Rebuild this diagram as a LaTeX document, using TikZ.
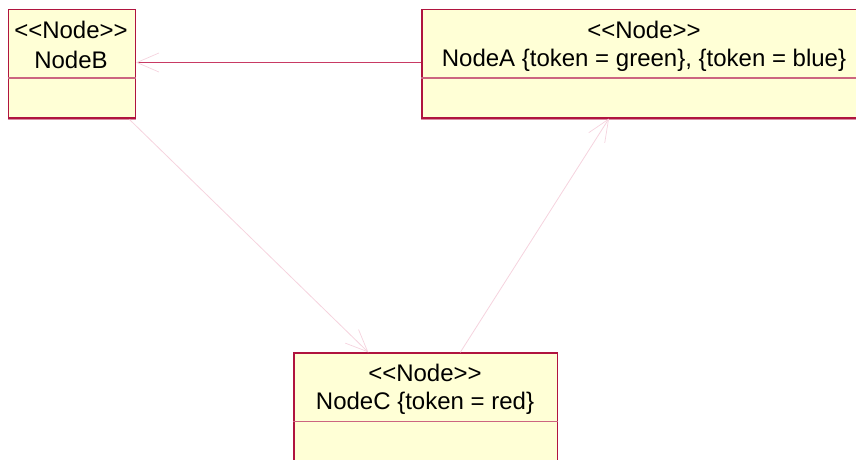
\documentclass[tikz,border=0pt]{standalone}
\usepackage{fontspec}
\setmainfont{Liberation Sans}[Ligatures=TeXOff]
\usetikzlibrary{arrows.meta}
\definecolor{boxfill}{HTML}{FFFFD6}
\definecolor{boxline}{HTML}{B0143F}
\definecolor{divline}{HTML}{CC6580}
\definecolor{assoc}{HTML}{C83A64}
\definecolor{faint}{HTML}{F5D3DE}
\definecolor{shade}{HTML}{D88CA0}
\tikzset{
  umlbox/.style={draw=boxline, fill=boxfill, line width=1.5pt, rectangle, inner sep=0pt, anchor=north west},
  divider/.style={draw=divline, line width=1.3pt},
  shadowline/.style={draw=shade, line width=1pt},
  txt/.style={font=\fontsize{24}{28}\selectfont, inner sep=0pt, anchor=center},
  headV/.style={-{Straight Barb[length=22pt,width=19pt,line width=0.7pt,color=faint]}},
  assocline/.style={draw=assoc, line width=1.4pt, headV},
  faintline/.style={draw=faint, line width=0.8pt, headV},
}
\begin{document}
\begin{tikzpicture}[x=1pt,y=-1pt]
\useasboundingbox (0,0) rectangle (856,459);
\clip (0,0) rectangle (856,459);
% NodeB
\node[umlbox, minimum width=127pt, minimum height=108.5pt] (b) at (7.5,8.5) {};
\draw[shadowline] ([yshift=-1.2pt]b.south west) -- ([yshift=-1.2pt]b.south east);
\draw[divider] ([yshift=-69.5pt]b.north west) -- ([yshift=-69.5pt]b.north east);
\node[txt] (bs) at (71,30) {<<Node>>};
\node[txt] (bn) at (71,60) {NodeB};
% NodeA
\node[umlbox, minimum width=446pt, minimum height=108.5pt] (a) at (421,8.5) {};
\draw[shadowline] ([yshift=-1.2pt]a.south west) -- ([yshift=-1.2pt]a.south east);
\draw[divider] ([yshift=-69.5pt]a.north west) -- ([yshift=-69.5pt]a.north east);
\node[txt] (as) at (644,30) {<<Node>>};
\node[txt] (an) at (644,60) {NodeA \{token = green\}, \{token = blue\}};
% NodeC
\node[umlbox, minimum width=263.5pt, minimum height=130pt] (c) at (293.3,352.3) {};
\draw[divider] ([yshift=-69.5pt]c.north west) -- ([yshift=-69.5pt]c.north east);
\node[txt] (cs) at (425,373) {<<Node>>};
\node[txt] (cn) at (425,403) {NodeC \{token = red\}};
% connectors
\draw[assocline] ([yshift=-54pt]a.north west) -- ([yshift=-54pt]b.north east);
\draw[faintline] ([xshift=-6.5pt,yshift=-1pt]b.south east) -- ([xshift=75pt]c.north west);
\draw[faintline] ([xshift=167pt]c.north west) -- ([xshift=188pt]a.south west);
\end{tikzpicture}
\end{document}
